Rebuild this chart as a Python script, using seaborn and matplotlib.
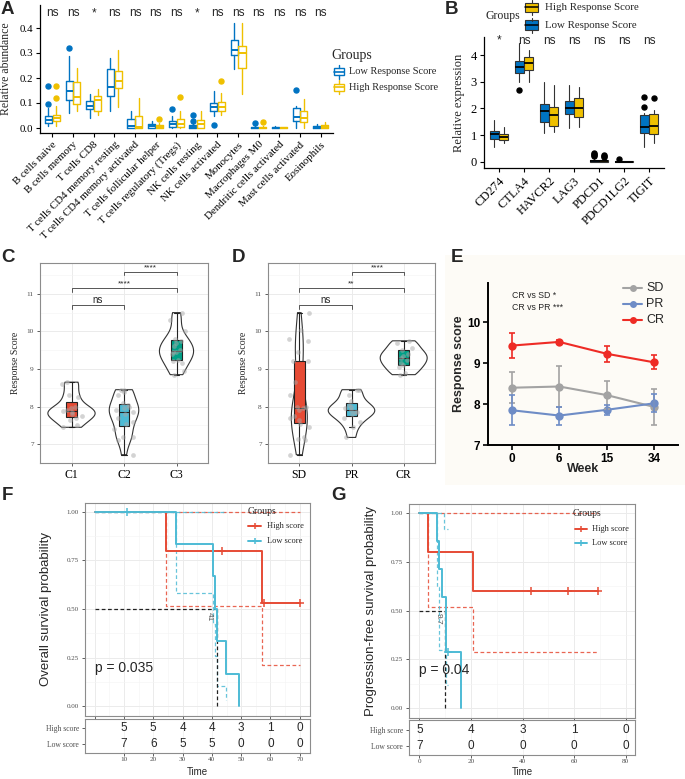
import numpy as np
import pandas as pd
import matplotlib
matplotlib.use("Agg")
import matplotlib.pyplot as plt
import seaborn as sns
from matplotlib.lines import Line2D
from matplotlib.patches import Rectangle

# ---------------- data ----------------
# A: immune cell abundance (box stats per cell type)
cells = ["B cells naive", "B cells memory", "T cells CD8", "T cells CD4 memory resting",
         "T cells CD4 memory activated", "T cells follicular helper", "T cells regulatory (Tregs)",
         "NK cells resting", "NK cells activated", "Monocytes", "Macrophages M0",
         "Dendritic cells activated", "Mast cells activated", "Eosinophils"]
a_sig = ["ns", "ns", "*", "ns", "ns", "ns", "ns", "*", "ns", "ns", "ns", "ns", "ns", "ns"]
a_low_lo = [0.01, 0.06, 0.04, 0.067, 0.0, 0.0, 0.0, 0.0, 0.047, 0.236, 0.0, 0.0, 0.0, 0.0]
a_low_q1 = [0.02, 0.113, 0.076, 0.127, 0.0, 0.0, 0.003, 0.0, 0.067, 0.293, 0.0, 0.0, 0.027, 0.0]
a_low_med = [0.033, 0.15, 0.09, 0.164, 0.01, 0.007, 0.017, 0.005, 0.084, 0.313, 0.002, 0.002, 0.043, 0.003]
a_low_q3 = [0.047, 0.187, 0.107, 0.236, 0.036, 0.015, 0.03, 0.013, 0.1, 0.353, 0.005, 0.004, 0.08, 0.01]
a_low_hi = [0.08, 0.287, 0.135, 0.28, 0.067, 0.027, 0.047, 0.027, 0.15, 0.42, 0.009, 0.008, 0.09, 0.016]
a_low_out = [[0.096, 0.17], [0.32], [], [], [], [], [0.077], [0.03, 0.053], [0.013], [], [0.02], [], [0.153], []]
a_high_lo = [0.007, 0.07, 0.053, 0.083, 0.0, 0.0, 0.0, 0.0, 0.053, 0.136, 0.0, 0.0, 0.0, 0.0]
a_high_q1 = [0.027, 0.096, 0.07, 0.16, 0.0, 0.0, 0.003, 0.002, 0.067, 0.24, 0.0, 0.0, 0.024, 0.0]
a_high_med = [0.04, 0.123, 0.113, 0.19, 0.003, 0.003, 0.017, 0.017, 0.084, 0.3, 0.002, 0.002, 0.04, 0.004]
a_high_q3 = [0.053, 0.183, 0.13, 0.227, 0.05, 0.013, 0.036, 0.033, 0.104, 0.327, 0.005, 0.004, 0.067, 0.012]
a_high_hi = [0.087, 0.24, 0.155, 0.313, 0.12, 0.02, 0.067, 0.067, 0.14, 0.42, 0.01, 0.006, 0.117, 0.023]
a_high_out = [[0.12, 0.17], [], [], [], [], [0.036], [0.123], [], [0.19], [], [0.025], [], [], []]

# B: checkpoint gene expression
genes = ["CD274", "CTLA4", "HAVCR2", "LAG3", "PDCD1", "PDCD1LG2", "TIGIT"]
b_sig = ["*", "ns", "ns", "ns", "ns", "ns", "ns"]
b_low_lo = [0.56, 3.0, 1.09, 1.25, 0.0, 0.0, 0.56]
b_low_q1 = [0.84, 3.34, 1.5, 1.79, 0.0, 0.0, 1.06]
b_low_med = [1.04, 3.56, 1.9, 2.0, 0.03, 0.005, 1.29]
b_low_q3 = [1.16, 3.79, 2.16, 2.29, 0.08, 0.01, 1.75]
b_low_hi = [1.56, 4.44, 3.0, 2.88, 0.15, 0.02, 1.82]
b_low_out = [[], [2.69], [], [], [0.2, 0.24, 0.28, 0.31], [0.09], [2.04, 2.41]]
b_high_lo = [0.71, 3.0, 1.13, 1.29, 0.0, 0.0, 0.69]
b_high_q1 = [0.81, 3.44, 1.34, 1.69, 0.0, 0.0, 1.04]
b_high_med = [0.94, 3.71, 1.75, 2.0, 0.03, 0.005, 1.34]
b_high_q3 = [1.04, 3.91, 2.06, 2.38, 0.06, 0.01, 1.79]
b_high_hi = [1.31, 4.19, 2.88, 2.81, 0.13, 0.02, 1.94]
b_high_out = [[], [], [], [], [0.18, 0.22, 0.26], [], [2.38]]

# C: response score by cluster
c_groups = ["C1", "C2", "C3"]
c1_scores = [7.45, 7.5, 7.65, 7.7, 7.75, 7.8, 7.85, 7.87, 7.9, 7.95, 8.0, 8.25, 8.3, 8.6, 8.65]
c2_scores = [6.72, 7.1, 7.2, 7.2, 7.4, 7.55, 7.6, 7.7, 7.8, 7.85, 7.9, 7.95, 8.0, 8.05, 8.1,
             8.3, 8.4, 8.45, 8.45]
c3_scores = [8.85, 8.95, 9.15, 9.2, 9.25, 9.4, 9.45, 9.45, 9.5, 9.6, 9.7, 9.75, 9.8, 10.0,
             10.3, 10.5]
c_brackets = [(0, 1, 10.69, "ns"), (0, 2, 11.15, "****"), (1, 2, 11.59, "****")]

# D: response score by clinical response
d_groups = ["SD", "PR", "CR"]
sd_scores = [6.72, 7.1, 7.15, 7.2, 7.45, 7.55, 7.65, 7.7, 7.75, 7.9, 7.95, 8.0, 8.0, 8.3,
             8.65, 9.2, 9.2, 9.45, 9.75, 9.8, 10.05, 10.5]
pr_scores = [7.18, 7.45, 7.6, 7.7, 7.8, 7.85, 7.85, 7.9, 7.95, 8.0, 8.05, 8.15, 8.3, 8.45, 8.45]
cr_scores = [8.85, 8.9, 9.05, 9.1, 9.15, 9.25, 9.3, 9.35, 9.4, 9.5, 9.55, 9.7, 9.75]
d_brackets = [(0, 1, 10.69, "ns"), (0, 2, 11.15, "**"), (1, 2, 11.59, "****")]

# E: response score over time
weeks = ["0", "6", "15", "34"]
e_sd_mean = [8.40, 8.43, 8.22, 7.93]
e_sd_err = [0.38, 0.50, 0.35, 0.45]
e_pr_mean = [7.85, 7.72, 7.86, 8.02]
e_pr_err = [0.37, 0.22, 0.12, 0.22]
e_cr_mean = [9.43, 9.52, 9.23, 9.02]
e_cr_err = [0.31, 0.04, 0.19, 0.17]

# F: overall survival
f_high_t = [0, 24.2, 57.2, 70]
f_high_s = [1.0, 0.8, 0.533, 0.533]
f_high_cens_t = [43.3, 57.7, 70]
f_high_cens_s = [0.8, 0.533, 0.533]
f_high_ci_up_t = [24.2, 70]
f_high_ci_up_s = [1.0, 1.0]
f_high_ci_lo_t = [0, 24.2, 57.2, 70]
f_high_ci_lo_s = [1.0, 0.516, 0.211, 0.211]
f_low_t = [0, 27.7, 40.4, 41.0, 41.6, 44.8, 49.2]
f_low_s = [1.0, 0.833, 0.667, 0.5, 0.333, 0.167, 0.0]
f_low_cens_t = [10.9]
f_low_cens_s = [1.0]
f_low_ci_up_t = [0, 44.8]
f_low_ci_up_s = [1.0, 1.0]
f_low_ci_lo_t = [0, 27.7, 40.4, 41.0, 41.6, 44.8]
f_low_ci_lo_s = [1.0, 0.583, 0.42, 0.26, 0.105, 0.03]
f_median = 41.6
f_median_label = "41"
f_risk_t = [10, 20, 30, 40, 50, 60, 70]
f_risk_high = [5, 5, 4, 4, 3, 1, 0]
f_risk_low = [7, 6, 5, 5, 0, 0, 0]

# G: progression-free survival
g_high_t = [0, 3.5, 20.9, 69.4]
g_high_s = [1.0, 0.8, 0.6, 0.6]
g_high_cens_t = [43.2, 57.5, 69.4]
g_high_cens_s = [0.6, 0.6, 0.6]
g_high_ci_up_t = [3.5, 69.4]
g_high_ci_up_s = [1.0, 1.0]
g_high_ci_lo_t = [0, 3.5, 20.9, 69.4]
g_high_ci_lo_s = [1.0, 0.52, 0.29, 0.29]
g_low_t = [0, 6.7, 7.6, 8.7, 10.3, 16.2]
g_low_s = [1.0, 0.857, 0.714, 0.571, 0.286, 0.0]
g_low_cens_t = [11.2]
g_low_cens_s = [0.286]
g_low_ci_up_t = [0, 9.7, 11.2]
g_low_ci_up_s = [1.0, 0.92, 0.92]
g_low_ci_lo_t = [0, 6.7, 7.6, 10.3, 11.2]
g_low_ci_lo_s = [1.0, 0.62, 0.30, 0.12, 0.12]
g_median = 9.9
g_median_label = "9.7"
g_risk_t = [0, 20, 40, 60, 80]
g_risk_high = [5, 4, 3, 1, 0]
g_risk_low = [7, 0, 0, 0, 0]

# ---------------- style ----------------
SERIF = "Liberation Serif"
SANS = "Liberation Sans"
sns.set_theme(style="white")
plt.rcParams["font.family"] = [SERIF, "DejaVu Serif"]
plt.rcParams["axes.unicode_minus"] = False

JCO_BLUE, JCO_YEL = "#0073C2", "#EFC000"
NPG_RED, NPG_CYAN, NPG_GREEN = "#E64B35", "#4DBBD5", "#00A087"
E_SD, E_PR, E_CR = "#A3A3A3", "#6E8CC6", "#EE2B25"
GRID = "#EBEBEB"

W, H = 685, 779
fig = plt.figure(figsize=(W / 100, H / 100), dpi=100)


def fx(x):
    return x / W


def fy(y):
    return 1 - y / H


def px_axes(x0, y0, x1, y1):
    return fig.add_axes([fx(x0), fy(y1), (x1 - x0) / W, (y1 - y0) / H])


def ftext(x, y, s, **kw):
    fig.text(fx(x), fy(y), s, **kw)


def fline(xs, ys, **kw):
    fig.add_artist(Line2D([fx(v) for v in xs], [fy(v) for v in ys],
                          transform=fig.transFigure, **kw))


def frect(x0, y0, x1, y1, **kw):
    fig.add_artist(Rectangle((fx(x0), fy(y1)), (x1 - x0) / W, (y1 - y0) / H,
                             transform=fig.transFigure, **kw))


def box_stats(lo, q1, med, q3, hi, out):
    return [dict(whislo=a, q1=b, med=c, q3=d, whishi=e, fliers=f)
            for a, b, c, d, e, f in zip(lo, q1, med, q3, hi, out)]


def set_font(labels, family, size, color="black", weight="normal"):
    for lab in labels:
        lab.set_fontfamily(family)
        lab.set_fontsize(size)
        lab.set_color(color)
        lab.set_fontweight(weight)


# light cream background behind E
frect(445, 255, 685, 485, facecolor="#FDFBF6", edgecolor="none", zorder=-5)

# ---------------- A ----------------
axA = px_axes(40, 5, 333, 133)
posA = np.arange(len(cells))
for stats, off, col in [
    (box_stats(a_low_lo, a_low_q1, a_low_med, a_low_q3, a_low_hi, a_low_out), -0.19, JCO_BLUE),
    (box_stats(a_high_lo, a_high_q1, a_high_med, a_high_q3, a_high_hi, a_high_out), 0.19, JCO_YEL),
]:
    axA.bxp(stats, positions=posA + off, widths=0.34, showcaps=False, manage_ticks=False,
            boxprops=dict(color=col, lw=1.0), whiskerprops=dict(color=col, lw=1.0),
            medianprops=dict(color=col, lw=1.4),
            flierprops=dict(marker="o", mfc=col, mec=col, ms=3.6))
for i, s in enumerate(a_sig):
    axA.text(i, 0.46, s, ha="center", va="center", fontsize=8.5, family=SANS)
axA.set_xlim(-0.6, 13.6)
axA.set_ylim(-0.02, 0.492)
axA.set_yticks([0.0, 0.1, 0.2, 0.3, 0.4])
axA.set_yticklabels(["0.0", "0.1", "0.2", "0.3", "0.4"])
axA.set_xticks(posA)
axA.set_xticklabels(cells, rotation=45, ha="right", rotation_mode="anchor")
set_font(axA.get_xticklabels(), SERIF, 7.8)
set_font(axA.get_yticklabels(), SERIF, 7.8)
for sp in ["top", "right"]:
    axA.spines[sp].set_visible(False)
for sp in ["left", "bottom"]:
    axA.spines[sp].set_color("black")
    axA.spines[sp].set_linewidth(0.9)
axA.tick_params(axis="both", length=3, width=0.8, color="black", direction="out",
                left=True, bottom=True, pad=2)
axA.set_ylabel("Relative abundance", fontsize=8.5, family=SERIF)
axA.yaxis.set_label_coords(-0.095, 0.5)

ftext(331, 55, "Groups", fontsize=10, va="center", ha="left", family=SERIF)
for yy, col, lab in [(71.7, JCO_BLUE, "Low Response Score"), (87.3, JCO_YEL, "High Response Score")]:
    frect(334, yy - 3.5, 344, yy + 3.5, facecolor="white", edgecolor=col, lw=1.0)
    fline([334, 344], [yy, yy], color=col, lw=1.2)
    fline([339, 339], [yy - 7, yy - 3.5], color=col, lw=1.0)
    fline([339, 339], [yy + 3.5, yy + 7], color=col, lw=1.0)
    ftext(349, yy, lab, fontsize=7.5, va="center", ha="left", family=SERIF)

# ---------------- B ----------------
axB = px_axes(484, 37, 664, 168)
posB = np.arange(len(genes))
for stats, off, col in [
    (box_stats(b_low_lo, b_low_q1, b_low_med, b_low_q3, b_low_hi, b_low_out), -0.19, JCO_BLUE),
    (box_stats(b_high_lo, b_high_q1, b_high_med, b_high_q3, b_high_hi, b_high_out), 0.19, JCO_YEL),
]:
    axB.bxp(stats, positions=posB + off, widths=0.36, showcaps=False, manage_ticks=False,
            patch_artist=True,
            boxprops=dict(facecolor=col, edgecolor="#333333", lw=0.8),
            whiskerprops=dict(color="#333333", lw=0.8),
            medianprops=dict(color="black", lw=1.3),
            flierprops=dict(marker="o", mfc="black", mec="black", ms=3.6))
for i, s in enumerate(b_sig):
    axB.text(i, 4.54, s, ha="center", va="center", fontsize=8.5, family=SANS)
axB.set_xlim(-0.6, 6.6)
axB.set_ylim(-0.236, 4.675)
axB.set_yticks([0, 1, 2, 3, 4])
axB.set_xticks(posB)
axB.set_xticklabels(genes, rotation=45, ha="right", rotation_mode="anchor")
set_font(axB.get_xticklabels(), SERIF, 9)
set_font(axB.get_yticklabels(), SERIF, 9)
for sp in ["top", "right"]:
    axB.spines[sp].set_visible(False)
for sp in ["left", "bottom"]:
    axB.spines[sp].set_color("black")
    axB.spines[sp].set_linewidth(0.9)
axB.tick_params(axis="both", length=3, width=0.8, color="black", direction="out",
                left=True, bottom=True, pad=2)
axB.set_ylabel("Relative expression", fontsize=9, family=SERIF)
axB.yaxis.set_label_coords(-0.105, 0.5)

ftext(485, 16, "Groups", fontsize=8.5, va="center", ha="left", family=SERIF)
for yy, col, lab in [(7.3, JCO_YEL, "High Response Score"), (25, JCO_BLUE, "Low Response Score")]:
    frect(525, yy - 4.5, 538, yy + 4.5, facecolor=col, edgecolor="#333333", lw=0.8)
    fline([525, 538], [yy, yy], color="black", lw=1.1)
    fline([531.5, 531.5], [yy - 7.5, yy - 4.5], color="#333333", lw=0.8)
    fline([531.5, 531.5], [yy + 4.5, yy + 7.5], color="#333333", lw=0.8)
    ftext(545, yy, lab, fontsize=7.8, va="center", ha="left", family=SERIF)


# ---------------- C / D ----------------
def violin_panel(ax, groups, score_lists, colors, brackets):
    df = pd.DataFrame({
        "group": np.repeat(groups, [len(v) for v in score_lists]),
        "score": np.concatenate(score_lists),
    })
    sns.violinplot(data=df, x="group", y="score", order=groups, cut=0, inner=None,
                   fill=False, color="#333333", linewidth=0.8, width=0.9, bw_adjust=0.8,
                   ax=ax)
    sns.boxplot(data=df, x="group", y="score", hue="group", order=groups, hue_order=groups,
                palette=colors, saturation=1, width=0.2, showfliers=False,
                linecolor="#222222", linewidth=0.8, legend=False, ax=ax)
    np.random.seed(7)
    sns.stripplot(data=df, x="group", y="score", order=groups, color="#A8A8A8", alpha=0.5,
                  size=3.4, jitter=0.2, ax=ax, zorder=4)
    for i, j, h, lab in brackets:
        ax.plot([i, i, j, j], [h - 0.1, h, h, h - 0.1], color="#555555", lw=0.7)
        ax.text((i + j) / 2, h + 0.02, lab, ha="center", va="bottom",
                fontsize=7 if lab == "ns" else 6, family=SANS)
    ax.set_xlim(-0.6, 2.6)
    ax.set_ylim(6.505, 11.82)
    ax.set_yticks([7, 8, 9, 10, 11])
    ax.set_yticks([6.5, 7.5, 8.5, 9.5, 10.5, 11.5], minor=True)
    ax.grid(which="major", color=GRID, lw=0.7)
    ax.grid(which="minor", color="#F3F3F3", lw=0.4)
    ax.set_axisbelow(True)
    ax.set_xlabel("")
    ax.set_ylabel("Response Score", fontsize=7, family=SERIF)
    ax.yaxis.set_label_coords(-0.12, 0.5)
    set_font(ax.get_xticklabels(), SERIF, 8.5)
    set_font(ax.get_yticklabels(), SERIF, 5.2, color="#4D4D4D")
    for sp in ax.spines.values():
        sp.set_visible(True)
        sp.set_color("#8C8C8C")
        sp.set_linewidth(0.8)
    ax.tick_params(axis="both", which="major", length=2.5, width=0.6, color="#444444",
                   direction="out", left=True, bottom=True, pad=2)
    ax.tick_params(axis="both", which="minor", length=0)


axC = px_axes(40, 263, 208, 463)
violin_panel(axC, c_groups, [c1_scores, c2_scores, c3_scores], [NPG_RED, NPG_CYAN, NPG_GREEN],
             c_brackets)
axD = px_axes(268, 263, 435, 463)
violin_panel(axD, d_groups, [sd_scores, pr_scores, cr_scores], [NPG_RED, NPG_CYAN, NPG_GREEN],
             d_brackets)

# ---------------- E ----------------
axE = px_axes(488, 283, 678, 445)
axE.set_facecolor("none")
e_colors = {"SD": E_SD, "PR": E_PR, "CR": E_CR}
df_e = pd.DataFrame({
    "pos": np.tile(np.arange(len(weeks)), 3),
    "score": e_sd_mean + e_pr_mean + e_cr_mean,
    "group": np.repeat(["SD", "PR", "CR"], len(weeks)),
})
sns.lineplot(data=df_e, x="pos", y="score", hue="group", palette=e_colors, marker="o",
             markersize=6, markeredgewidth=0, linewidth=1.5, legend=False, ax=axE)
for mean, err, g in [(e_sd_mean, e_sd_err, "SD"), (e_pr_mean, e_pr_err, "PR"),
                     (e_cr_mean, e_cr_err, "CR")]:
    axE.errorbar(np.arange(len(weeks)), mean, yerr=err, fmt="none", ecolor=e_colors[g],
                 elinewidth=1.2, capsize=2.5, capthick=1.2)
axE.set_xlim(-0.5, 3.5)
axE.set_ylim(7, 10.96)
axE.set_yticks([7, 8, 9, 10])
axE.set_xticks(np.arange(len(weeks)))
axE.set_xticklabels(weeks)
set_font(axE.get_xticklabels(), SANS, 8.5, weight="bold")
set_font(axE.get_yticklabels(), SANS, 8.5, weight="bold")
for sp in ["top", "right"]:
    axE.spines[sp].set_visible(False)
for sp in ["left", "bottom"]:
    axE.spines[sp].set_color("black")
    axE.spines[sp].set_linewidth(1.4)
axE.tick_params(axis="both", length=3.5, width=1.2, color="black", direction="out",
                left=True, bottom=True, pad=2)
axE.set_xlabel("Week", fontsize=9, family=SANS, fontweight="bold")
axE.xaxis.set_label_coords(0.5, -0.11)
axE.set_ylabel("Response score", fontsize=9, family=SANS, fontweight="bold")
axE.yaxis.set_label_coords(-0.12, 0.5)
axE.grid(False)
ftext(512, 296, "CR vs SD *", fontsize=6.3, va="center", ha="left", family=SANS)
ftext(512, 307, "CR vs PR ***", fontsize=6.3, va="center", ha="left", family=SANS)
for yy, g in [(288, "SD"), (304, "PR"), (320, "CR")]:
    fline([623, 642], [yy, yy], color=e_colors[g], lw=1.5)
    fline([632.5], [yy], color=e_colors[g], marker="o", ms=5, mew=0)
    ftext(646, yy, g, fontsize=9, va="center", ha="left", family=SANS)


# ---------------- F / G ----------------
def km_panel(ax, tab, high, low, median, med_label, xlim, xticks, minor_xticks,
             risk_t, risk_high, risk_low, table_ticks, ylabel, pval, pval_x, ylim, tab_ylim):
    (ht, hs, hct, hcs, hut, hus, hlt, hls) = high
    (lt, ls, lct, lcs, lut, lus, llt, lls) = low
    for t, s, col in [(hut, hus, NPG_RED), (hlt, hls, NPG_RED),
                      (lut, lus, NPG_CYAN), (llt, lls, NPG_CYAN)]:
        ax.step(t, s, where="post", color=col, lw=0.9, ls=(0, (3, 2)), alpha=0.85)
    ax.plot([0, median], [0.5, 0.5], color="#222222", lw=0.9, ls=(0, (3, 2)))
    ax.plot([median, median], [0, 0.5], color="#222222", lw=0.9, ls=(0, (3, 2)))
    ax.text(median - 1.2, 0.46, med_label, rotation=270, ha="right", va="center",
            fontsize=6, color="#555555", family=SANS)
    ax.step(ht, hs, where="post", color=NPG_RED, lw=1.4)
    ax.step(lt, ls, where="post", color=NPG_CYAN, lw=1.4)
    ax.plot(hct, hcs, ls="none", marker="+", color=NPG_RED, ms=6, mew=1.1)
    ax.plot(lct, lcs, ls="none", marker="+", color=NPG_CYAN, ms=6, mew=1.1)
    ax.text(pval_x, 0.195, pval, ha="left", va="center", fontsize=10, family=SANS)
    ax.set_xlim(*xlim)
    ax.set_ylim(*ylim)
    ax.set_xticks(xticks)
    ax.set_xticks(minor_xticks, minor=True)
    ax.set_xticklabels([])
    ax.set_yticks([0, 0.25, 0.5, 0.75, 1.0])
    ax.set_yticks([0.125, 0.375, 0.625, 0.875], minor=True)
    ax.set_yticklabels(["0.00", "0.25", "0.50", "0.75", "1.00"])
    set_font(ax.get_yticklabels(), SERIF, 5, color="#4D4D4D")
    ax.grid(which="major", color=GRID, lw=0.7)
    ax.grid(which="minor", color="#F4F4F4", lw=0.4)
    ax.set_axisbelow(True)
    ax.set_ylabel(ylabel, fontsize=9.5, family=SANS)
    for sp in ax.spines.values():
        sp.set_visible(True)
        sp.set_color("#8C8C8C")
        sp.set_linewidth(0.8)
    ax.tick_params(axis="both", which="major", length=2.5, width=0.6, color="#444444",
                   direction="out", left=True, bottom=True, pad=2)
    ax.tick_params(axis="both", which="minor", length=0)

    for t, n in zip(risk_t, risk_high):
        tab.text(t, 1, str(n), ha="center", va="center", fontsize=8.5, family=SANS)
    for t, n in zip(risk_t, risk_low):
        tab.text(t, 0, str(n), ha="center", va="center", fontsize=8.5, family=SANS)
    tab.set_xlim(*xlim)
    tab.set_ylim(*tab_ylim)
    tab.set_yticks([1, 0])
    tab.set_yticklabels(["High score", "Low score"])
    tab.set_xticks(table_ticks)
    tab.set_xticklabels([str(v) for v in table_ticks])
    set_font(tab.get_yticklabels(), SERIF, 5.5, color="#4D4D4D")
    set_font(tab.get_xticklabels(), SERIF, 5.2, color="#4D4D4D")
    tab.grid(axis="x", color="#F0F0F0", lw=0.6)
    tab.set_axisbelow(True)
    for sp in tab.spines.values():
        sp.set_visible(True)
        sp.set_color("#8C8C8C")
        sp.set_linewidth(0.8)
    tab.tick_params(axis="y", length=2.5, width=0.6, color="#444444", direction="out",
                    left=True, pad=2)
    tab.tick_params(axis="x", length=2, width=0.6, color="#444444", direction="out",
                    bottom=True, pad=1)
    tab.set_xlabel("Time", fontsize=7, family=SANS)


axF = px_axes(85, 503, 310, 716)
tabF = px_axes(85, 719, 310, 753)
km_panel(axF, tabF,
         (f_high_t, f_high_s, f_high_cens_t, f_high_cens_s, f_high_ci_up_t, f_high_ci_up_s,
          f_high_ci_lo_t, f_high_ci_lo_s),
         (f_low_t, f_low_s, f_low_cens_t, f_low_cens_s, f_low_ci_up_t, f_low_ci_up_s,
          f_low_ci_lo_t, f_low_ci_lo_s),
         f_median, f_median_label, (-3.3, 73.5), list(range(0, 71, 10)), list(range(5, 70, 10)),
         f_risk_t, f_risk_high, f_risk_low, f_risk_t, "Overall survival probability",
         "p = 0.035", 0, (-0.051, 1.045), (-0.57, 1.59))
axF.yaxis.set_label_coords(-0.147, 0.5)
tabF.xaxis.set_label_coords(0.5, -0.4)

axG = px_axes(409, 504, 635, 718)
tabG = px_axes(409, 720, 635, 755)
km_panel(axG, tabG,
         (g_high_t, g_high_s, g_high_cens_t, g_high_cens_s, g_high_ci_up_t, g_high_ci_up_s,
          g_high_ci_lo_t, g_high_ci_lo_s),
         (g_low_t, g_low_s, g_low_cens_t, g_low_cens_s, g_low_ci_up_t, g_low_ci_up_s,
          g_low_ci_lo_t, g_low_ci_lo_s),
         g_median, g_median_label, (-4.0, 83.6), [0, 20, 40, 60, 80], [10, 30, 50, 70],
         g_risk_t, g_risk_high, g_risk_low, g_risk_t, "Progression-free survival probability",
         "p = 0.04", 0, (-0.051, 1.048), (-0.62, 1.69))
axG.yaxis.set_label_coords(-0.142, 0.5)
tabG.xaxis.set_label_coords(0.5, -0.35)

# KM legends
for gx, gy, rows, lx0, lx1, tx in [(248, 511, (526, 540.7), 248, 261, 266.7),
                                   (573, 513, (529.3, 543.3), 575, 587, 591.7)]:
    ftext(gx, gy, "Groups", fontsize=7, va="center", ha="left", family=SERIF)
    for yy, col, lab in [(rows[0], NPG_RED, "High score"), (rows[1], NPG_CYAN, "Low score")]:
        fline([lx0, lx1], [yy, yy], color=col, lw=1.4)
        fline([(lx0 + lx1) / 2], [yy], color=col, marker="+", ms=5, mew=1.1)
        ftext(tx, yy, lab, fontsize=6, va="center", ha="left", family=SERIF)

# panel letters
for lab, x, y in [("A", 7, 9), ("B", 452, 9), ("C", 8, 258), ("D", 239, 258),
                  ("E", 457, 258), ("F", 7, 495), ("G", 339, 495)]:
    ftext(x, y, lab, fontsize=13.5, fontweight="bold", ha="center", va="center", family=SANS)

fig.savefig("out.png", dpi=100)
